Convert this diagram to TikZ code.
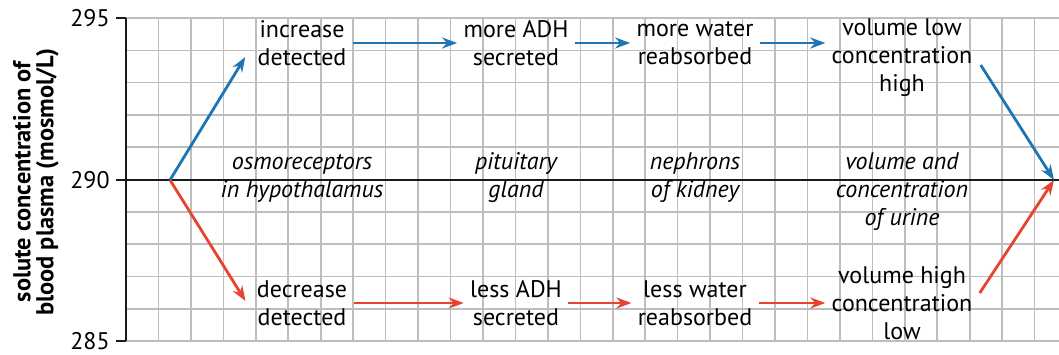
\documentclass[tikz,border=0pt]{standalone}
\usepackage{fontspec}
\setmainfont{PT Sans}
\usetikzlibrary{arrows.meta}
\definecolor{GridLine}{HTML}{BEBEBE}
\definecolor{AxisLine}{HTML}{1A1A1A}
\definecolor{RiseBlue}{HTML}{1F74B1}
\definecolor{FallRed}{HTML}{E8432E}
\tikzset{
  stepbox/.style={
    align=center,
    inner sep=3pt,
    font=\fontsize{12}{14}\selectfont,
    text=black,
  },
  sitebox/.style={
    stepbox,
    font=\fontsize{12}{14}\selectfont\itshape,
  },
  ticklabel/.style={
    anchor=east,
    inner sep=0pt,
    font=\fontsize{12}{14}\selectfont,
  },
  rise/.style={
    -{Stealth[length=7.5pt,width=5.5pt]},
    line width=1.4pt,
    draw=RiseBlue,
  },
  fall/.style={
    -{Stealth[length=7.5pt,width=5.5pt]},
    line width=1.4pt,
    draw=FallRed,
  }
}

\begin{document}
\begin{tikzpicture}[x=0.5pt,y=-0.5pt]
  \useasboundingbox (0,0) rectangle (1059,354);

  % grid
  \foreach \gx in {1,...,28}
    \draw[GridLine, line width=0.8pt] ({126+32.45*\gx},18) -- ({126+32.45*\gx},341);
  \foreach \gy in {0,...,10}
    \draw[GridLine, line width=0.8pt] (126,{18+32.3*\gy}) -- (1059,{18+32.3*\gy});

  % axis and set point line
  \draw[AxisLine, line width=0.8pt] (126,180) -- (1059,180);
  \draw[AxisLine, line width=1.2pt] (126,18) -- (126,341);
  \foreach \ty in {18,180,341}
    \draw[AxisLine, line width=1.2pt] (116,\ty) -- (126,\ty);
  \node[ticklabel] (t295) at (110,18) {295};
  \node[ticklabel] (t290) at (110,180) {290};
  \node[ticklabel] (t285) at (110,341) {285};
  \node[rotate=90, align=center, font=\fontsize{12.2}{11.5}\selectfont\bfseries] (ylab) at (36,182)
    {solute concentration of\\blood plasma (mosmol/L)};

  \coordinate (origin) at (170,180);
  \coordinate (setpoint) at (1054,180);

  % upper path
  \node[stepbox] (inc) at (302,43) {increase\\detected};
  \node[stepbox] (moreadh) at (516,43) {more ADH\\secreted};
  \node[stepbox] (morewater) at (695,43) {more water\\reabsorbed};
  \node[stepbox] (urinehi) at (902,58) {volume low\\concentration\\high};

  % sites
  \node[sitebox] (osmo) at (302,178) {osmoreceptors\\in hypothalamus};
  \node[sitebox] (pit) at (516,178) {pituitary\\gland};
  \node[sitebox] (neph) at (695,178) {nephrons\\of kidney};
  \node[sitebox] (urine) at (902,192) {volume and\\concentration\\of urine};

  % lower path
  \node[stepbox] (dec) at (302,303) {decrease\\detected};
  \node[stepbox] (lessadh) at (516,303) {less ADH\\secreted};
  \node[stepbox] (lesswater) at (695,303) {less water\\reabsorbed};
  \node[stepbox] (urinelo) at (902,303) {volume high\\concentration\\low};

  \draw[rise] (origin) -- ([shift={(-6,14)}]inc.west);
  \draw[rise] (inc.east) -- (moreadh.west);
  \draw[rise] (moreadh.east) -- (morewater.west);
  \draw[rise] (morewater.east) -- (morewater.east -| urinehi.west);
  \draw[rise] ([shift={(2,7)}]urinehi.east) -- (setpoint);

  \draw[fall] (origin) -- ([shift={(-5,-2)}]dec.west);
  \draw[fall] (dec.east) -- (lessadh.west);
  \draw[fall] (lessadh.east) -- (lesswater.west);
  \draw[fall] (lesswater.east) -- (urinelo.west);
  \draw[fall] ([shift={(1,-10)}]urinelo.east) -- (setpoint);
\end{tikzpicture}
\end{document}
